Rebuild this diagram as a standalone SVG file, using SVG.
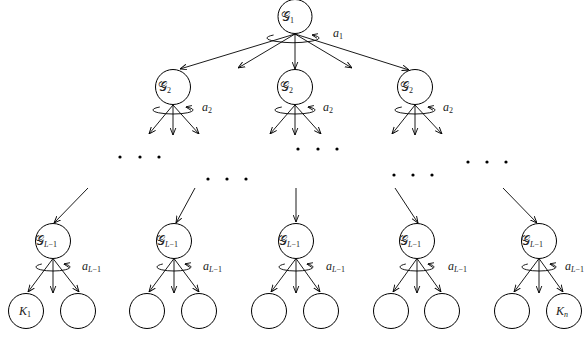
<svg xmlns="http://www.w3.org/2000/svg" width="588" height="337" viewBox="0 0 588 337">
<defs>
<marker id="ah" viewBox="0 0 10 10" refX="10" refY="5" markerWidth="7" markerHeight="7" orient="auto" markerUnits="userSpaceOnUse">
<path d="M0,1 L10,5 L0,9" fill="none" stroke="#000" stroke-width="1.3"/>
</marker>
<marker id="rh" viewBox="0 0 10 10" refX="9" refY="5" markerWidth="6" markerHeight="6" orient="auto" markerUnits="userSpaceOnUse">
<path d="M0,1 L10,5 L0,9" fill="none" stroke="#000" stroke-width="1.4"/>
</marker>
</defs>
<style>
.n{fill:#fff;stroke:#000;stroke-width:1}
.e{fill:none;stroke:#000;stroke-width:0.9;marker-end:url(#ah)}
.r{fill:none;stroke:#000;stroke-width:0.9;marker-end:url(#rh)}
.d{fill:#000}
text{font-family:"Liberation Serif","DejaVu Serif",serif;font-style:italic;fill:#222}
.g{font-size:13px;font-style:normal}
.a{font-size:12px}
.s{font-size:8px}
.u{font-style:normal}
</style>

<g id="connectors">
<line class="e" x1="295" y1="34" x2="180" y2="69"/>
<line class="e" x1="295" y1="34" x2="238" y2="68"/>
<line class="e" x1="295" y1="34" x2="295" y2="69"/>
<line class="e" x1="295" y1="34" x2="352" y2="68"/>
<line class="e" x1="295" y1="34" x2="409" y2="70"/>
<path class="r" d="M273.6,35 A26,4.5 0 1 0 312.4,35"/>
<line class="e" x1="173" y1="105" x2="149" y2="134"/>
<line class="e" x1="173" y1="105" x2="173" y2="135"/>
<line class="e" x1="173" y1="105" x2="199" y2="134"/>
<path class="r" d="M159.8,107 A20,4 0 1 0 186.2,107"/>
<line class="e" x1="295" y1="105" x2="270" y2="134"/>
<line class="e" x1="295" y1="105" x2="295" y2="135"/>
<line class="e" x1="295" y1="105" x2="321" y2="134"/>
<path class="r" d="M281.8,107 A20,4 0 1 0 308.2,107"/>
<line class="e" x1="415" y1="105" x2="392" y2="134"/>
<line class="e" x1="415" y1="105" x2="415" y2="135"/>
<line class="e" x1="415" y1="105" x2="442" y2="134"/>
<path class="r" d="M401.8,107 A20,4 0 1 0 428.2,107"/>
<line class="e" x1="88" y1="188" x2="54" y2="223"/>
<line class="e" x1="195" y1="188" x2="176" y2="223"/>
<line class="e" x1="296" y1="188" x2="296" y2="222"/>
<line class="e" x1="395" y1="188" x2="418" y2="223"/>
<line class="e" x1="503" y1="188" x2="537" y2="223"/>
<line class="e" x1="53" y1="258.5" x2="28" y2="292"/>
<line class="e" x1="53" y1="258.5" x2="53" y2="293"/>
<line class="e" x1="53" y1="258.5" x2="79" y2="292"/>
<path class="r" d="M41.8,264 A17,4 0 1 0 64.2,264"/>
<line class="e" x1="174" y1="258.5" x2="149" y2="292"/>
<line class="e" x1="174" y1="258.5" x2="174" y2="293"/>
<line class="e" x1="174" y1="258.5" x2="199" y2="292"/>
<path class="r" d="M162.8,264 A17,4 0 1 0 185.2,264"/>
<line class="e" x1="296" y1="258.5" x2="271" y2="292"/>
<line class="e" x1="296" y1="258.5" x2="296" y2="293"/>
<line class="e" x1="296" y1="258.5" x2="320" y2="292"/>
<path class="r" d="M284.8,264 A17,4 0 1 0 307.2,264"/>
<line class="e" x1="417" y1="258.5" x2="393" y2="292"/>
<line class="e" x1="417" y1="258.5" x2="417" y2="293"/>
<line class="e" x1="417" y1="258.5" x2="441" y2="292"/>
<path class="r" d="M405.8,264 A17,4 0 1 0 428.2,264"/>
<line class="e" x1="539" y1="258.5" x2="514" y2="292"/>
<line class="e" x1="539" y1="258.5" x2="539" y2="293"/>
<line class="e" x1="539" y1="258.5" x2="563" y2="292"/>
<path class="r" d="M527.8,264 A17,4 0 1 0 550.2,264"/>
</g>

<g id="labels">
<text class="a" x="333" y="37">a<tspan class="s u" dy="2">1</tspan></text>
<text class="a" x="202" y="111">a<tspan class="s u" dy="2">2</tspan></text>
<text class="a" x="323" y="111">a<tspan class="s u" dy="2">2</tspan></text>
<text class="a" x="443" y="111">a<tspan class="s u" dy="2">2</tspan></text>
<text class="a" x="82" y="270">a<tspan class="s" dy="2">L<tspan class="u">−1</tspan></tspan></text>
<text class="a" x="203" y="270">a<tspan class="s" dy="2">L<tspan class="u">−1</tspan></tspan></text>
<text class="a" x="326" y="270">a<tspan class="s" dy="2">L<tspan class="u">−1</tspan></tspan></text>
<text class="a" x="448" y="270">a<tspan class="s" dy="2">L<tspan class="u">−1</tspan></tspan></text>
<text class="a" x="565" y="270">a<tspan class="s" dy="2">L<tspan class="u">−1</tspan></tspan></text>
</g>

<g id="dots">
<circle class="d" cx="120" cy="157" r="1.6"/><circle class="d" cx="140" cy="157" r="1.6"/><circle class="d" cx="159" cy="157" r="1.6"/>
<circle class="d" cx="208" cy="179" r="1.6"/><circle class="d" cx="227" cy="179" r="1.6"/><circle class="d" cx="246" cy="179" r="1.6"/>
<circle class="d" cx="298" cy="149" r="1.6"/><circle class="d" cx="318" cy="149" r="1.6"/><circle class="d" cx="337" cy="149" r="1.6"/>
<circle class="d" cx="394" cy="175" r="1.6"/><circle class="d" cx="413" cy="175" r="1.6"/><circle class="d" cx="432" cy="175" r="1.6"/>
<circle class="d" cx="468" cy="162" r="1.6"/><circle class="d" cx="487" cy="162" r="1.6"/><circle class="d" cx="506" cy="162" r="1.6"/>
</g>

<g id="G1"><circle class="n" cx="295" cy="16.5" r="17"/><text class="g" x="281" y="21">𝒢<tspan class="s" dy="2">1</tspan></text></g>

<g id="G2a"><circle class="n" cx="173" cy="87" r="17.5"/><text class="g" x="158" y="91">𝒢<tspan class="s" dy="2">2</tspan></text></g>
<g id="G2b"><circle class="n" cx="295" cy="87" r="17.5"/><text class="g" x="280" y="91">𝒢<tspan class="s" dy="2">2</tspan></text></g>
<g id="G2c"><circle class="n" cx="415" cy="87" r="17.5"/><text class="g" x="400" y="91">𝒢<tspan class="s" dy="2">2</tspan></text></g>

<g id="GL1"><circle class="n" cx="53" cy="241" r="17.5"/><text class="g" x="35" y="245">𝒢<tspan class="s" dy="2"><tspan font-style="italic">L</tspan>−1</tspan></text></g>
<g id="GL2"><circle class="n" cx="174" cy="241" r="17.5"/><text class="g" x="156" y="245">𝒢<tspan class="s" dy="2"><tspan font-style="italic">L</tspan>−1</tspan></text></g>
<g id="GL3"><circle class="n" cx="296" cy="241" r="17.5"/><text class="g" x="278" y="245">𝒢<tspan class="s" dy="2"><tspan font-style="italic">L</tspan>−1</tspan></text></g>
<g id="GL4"><circle class="n" cx="417" cy="241" r="17.5"/><text class="g" x="399" y="245">𝒢<tspan class="s" dy="2"><tspan font-style="italic">L</tspan>−1</tspan></text></g>
<g id="GL5"><circle class="n" cx="539" cy="241" r="17.5"/><text class="g" x="521" y="245">𝒢<tspan class="s" dy="2"><tspan font-style="italic">L</tspan>−1</tspan></text></g>

<g id="K1"><circle class="n" cx="26" cy="311" r="17.5"/><text class="a" x="19" y="315">K<tspan class="s u" dy="2">1</tspan></text></g>
<g id="L2"><circle class="n" cx="78" cy="311" r="17.5"/></g>
<g id="L3"><circle class="n" cx="147" cy="311" r="17.5"/></g>
<g id="L4"><circle class="n" cx="199" cy="311" r="17.5"/></g>
<g id="L5"><circle class="n" cx="269" cy="311" r="17.5"/></g>
<g id="L6"><circle class="n" cx="321" cy="311" r="17.5"/></g>
<g id="L7"><circle class="n" cx="391" cy="311" r="17.5"/></g>
<g id="L8"><circle class="n" cx="442" cy="311" r="17.5"/></g>
<g id="L9"><circle class="n" cx="512" cy="311" r="17.5"/></g>
<g id="Kn"><circle class="n" cx="564" cy="311" r="17.5"/><text class="a" x="556" y="315">K<tspan class="s" dy="2">n</tspan></text></g>
</svg>
